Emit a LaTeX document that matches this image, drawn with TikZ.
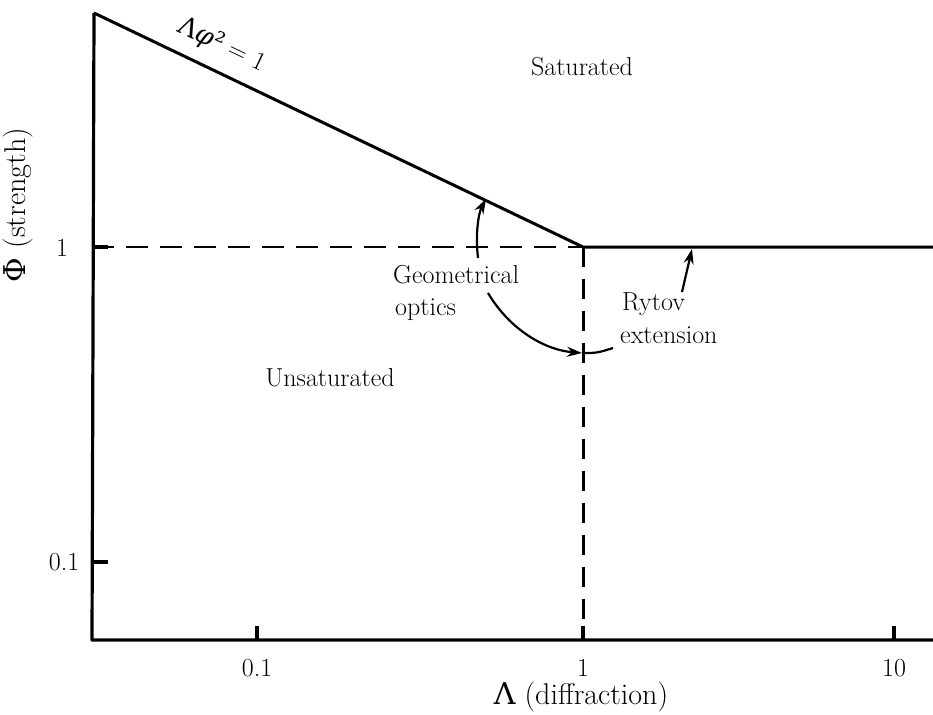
\documentclass[tikz,border=0pt]{standalone}
\usepackage{fontspec}
\newfontfamily\gk{DejaVu Serif}
\usetikzlibrary{arrows.meta}
\begin{document}
\begin{tikzpicture}[x=1pt,y=-1pt,
  axisline/.style={line width=3.2pt, line join=round},
  boundary/.style={line width=3pt, line join=round},
  dashh/.style={line width=1.8pt, dash pattern=on 22pt off 12pt},
  dashv/.style={line width=3pt, dash pattern=on 20pt off 12pt},
  lbl/.style={font=\fontsize{26}{30}\selectfont, inner sep=0pt},
  big/.style={font=\fontsize{30}{34}\selectfont, inner sep=0pt},
  arr/.style={line width=2.2pt, -{Stealth[length=15pt,width=10pt]}},
  plainline/.style={line width=2.2pt}]
\useasboundingbox (0,0) rectangle (933,714);
% key points
\coordinate (top) at (94,13);
\coordinate (corner) at (92,640);
\coordinate (right) at (933,640);
\coordinate (knee) at (583,247);
\coordinate (rend) at (933,247);
\coordinate (yone) at (92,247);
\coordinate (kbot) at (583,628);
% axes and boundary
\draw[axisline] (top) -- (corner) -- (right);
\draw[boundary] (top) -- (knee) -- (rend);
\draw[dashh] (yone) -- (knee);
\draw[dashv] (knee) -- (kbot);
% ticks
\coordinate (ty1a) at (92,247); \coordinate (ty1b) at (108,247);
\coordinate (ty2a) at (92,562); \coordinate (ty2b) at (108,562);
\coordinate (tx1a) at (257,640); \coordinate (tx1b) at (257,626);
\coordinate (tx2a) at (583,640); \coordinate (tx2b) at (583,626);
\coordinate (tx3a) at (894,640); \coordinate (tx3b) at (894,626);
\draw[axisline] (ty1a) -- (ty1b);
\draw[axisline] (ty2a) -- (ty2b);
\draw[axisline] (tx1a) -- (tx1b);
\draw[axisline] (tx2a) -- (tx2b);
\draw[axisline] (tx3a) -- (tx3b);
% tick labels
\node[lbl] (ly1) at (62,248) {1};
\node[lbl] (ly2) at (64,562) {0.1};
\node[lbl] (lx1) at (257,668) {0.1};
\node[lbl] (lx2) at (583,668) {1};
\node[lbl] (lx3) at (894,668) {10};
\node[big] (xt) at (581,697) {{\gk Λ} (diffraction)};
\node[big, rotate=90] (yt) at (18,205) {{\gk Φ} (strength)};
% region labels
\node[lbl] (sat) at (582,67) {Saturated};
\node[lbl] (unsat) at (330,378) {Unsaturated};
\node[lbl, rotate=-25.4] (lam) at (222,45) {{\gk Λ{\itshape φ}²} = 1};
\node[lbl, anchor=base west] (g1) at (393,283) {Geometrical};
\node[lbl, anchor=base west] (g2) at (395,315) {optics};
\node[lbl, anchor=base west] (r1) at (622,310) {Rytov};
\node[lbl, anchor=base west] (r2) at (620,343) {extension};
% arrows
\coordinate (ga0) at (478,258); \coordinate (ga1) at (486,199);
\draw[arr] (ga0) .. controls (475,232) and (479,212) .. (ga1);
\coordinate (gb0) at (488,293); \coordinate (gb1) at (582,353);
\draw[arr] (gb0) .. controls (510,330) and (545,350) .. (gb1);
\coordinate (gc1) at (613,348);
\draw[plainline] (gb1) .. controls (597,353) .. (gc1);
\coordinate (ra0) at (682,292); \coordinate (ra1) at (692,249);
\draw[arr] (ra0) -- (ra1);
\end{tikzpicture}
\end{document}
